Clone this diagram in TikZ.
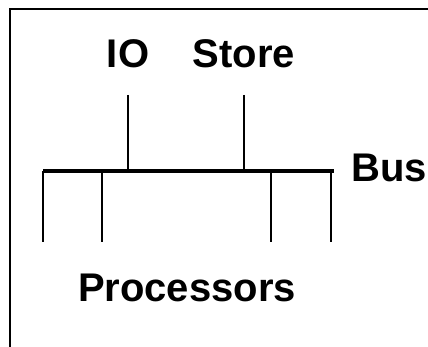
\documentclass[tikz,border=0pt]{standalone}
\usepackage{fontspec}
\setmainfont{Liberation Sans}
\begin{document}
\begin{tikzpicture}[x=1pt,y=1pt,
    lbl/.style={font=\fontsize{40}{42}\selectfont\bfseries, inner sep=0pt},
    wire/.style={line width=2.5pt},
    busline/.style={line width=4.5pt}]
      \useasboundingbox (0,0) rectangle (428,347);
      % frame, only top and left edges
      \draw[wire] (10,0) -- (10,338) -- (428,338);

      % the bus
      \coordinate (busL) at (43,176);
      \coordinate (busR) at (334,176);
      \draw[busline] (busL) -- (busR);
      \node[lbl, anchor=west] (bus) at (351,179) {Bus};

      % units above the bus
      \node[lbl] (io) at (128,293) {IO};
      \node[lbl] (store) at (244,293) {Store};
      \coordinate (ioTap) at (128,252);
      \coordinate (storeTap) at (244,252);
      \draw[wire] (ioTap) -- (ioTap |- busL);
      \draw[wire] (storeTap) -- (storeTap |- busL);

      % processors below the bus
      \foreach \x/\n in {43/p1,102/p2,271/p3,331/p4} {
        \coordinate (\n) at (\x,105);
        \draw[wire] (\n) -- (\n |- busL);
      }
      \node[lbl] (procs) at (187,59) {Processors};
\end{tikzpicture}
\end{document}
